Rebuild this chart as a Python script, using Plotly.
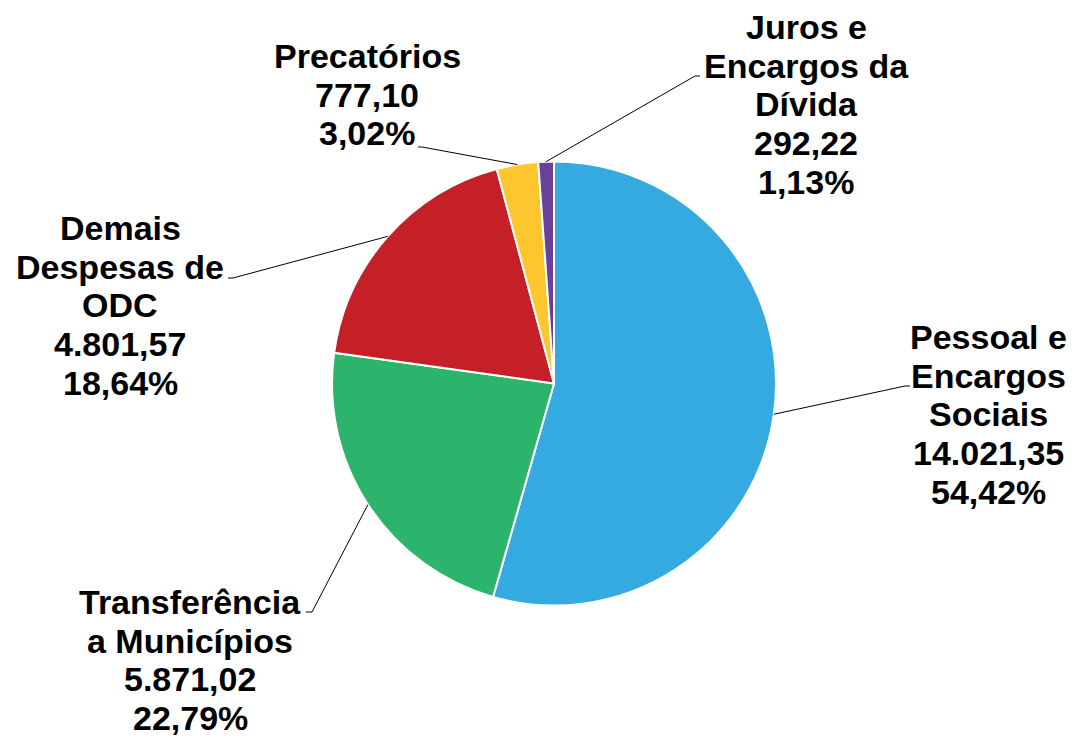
import math
import plotly.graph_objects as go

W, H = 1072, 737

# ---- data ----
categories = ["Pessoal e\nEncargos\nSociais",
              "Transferência\na Municípios",
              "Demais\nDespesas de\nODC",
              "Precatórios",
              "Juros e\nEncargos da\nDívida"]
values = [14021.35, 5871.02, 4801.57, 777.10, 292.22]
colors = ["#35AAE0", "#2DB46C", "#C52027", "#FDC62F", "#6A409B"]

# ---- layout positions (pixels) ----
pie_cx, pie_cy, pie_r = 554, 383.5, 222
label_centers = [(988, 337), (190, 602), (120, 228), (367, 56), (806, 27)]
elbows = [((905, 386), (910, 386)),
          ((312, 612), (306, 612)),
          ((233, 278), (228, 278)),
          ((422, 147), (418, 147)),
          ((695, 76), (700, 76))]
line_gap = 38.7
font_size = 34


def br_num(v):
    s = f"{v:,.2f}"
    return s.replace(",", "X").replace(".", ",").replace("X", ".")


def px(x, y):
    return x / W, 1 - y / H


total = sum(values)

fig = go.Figure(go.Pie(
    labels=[c.replace("\n", " ") for c in categories],
    values=values,
    sort=False,
    direction="clockwise",
    rotation=0,
    marker=dict(colors=colors, line=dict(color="white", width=2)),
    textinfo="none",
    hoverinfo="label+value+percent",
    domain=dict(x=[(pie_cx - pie_r) / W, (pie_cx + pie_r) / W],
                y=[1 - (pie_cy + pie_r) / H, 1 - (pie_cy - pie_r) / H]),
    showlegend=False,
))

annotations = []
shapes = []
cum = 0.0
for i, (cat, v) in enumerate(zip(categories, values)):
    frac = v / total
    mid = (cum + frac / 2) * 2 * math.pi
    cum += frac
    sx = pie_cx + pie_r * math.sin(mid)
    sy = pie_cy - pie_r * math.cos(mid)
    (ex, ey), (fx, fy) = elbows[i]
    p0, p1, p2 = px(sx, sy), px(ex, ey), px(fx, fy)
    shapes.append(dict(type="path", xref="paper", yref="paper",
                       path=f"M {p0[0]},{p0[1]} L {p1[0]},{p1[1]} L {p2[0]},{p2[1]}",
                       line=dict(color="black", width=1)))
    lines = cat.split("\n") + [br_num(v), f"{frac * 100:.2f}".replace(".", ",") + "%"]
    cx, cy = label_centers[i]
    for j, t in enumerate(lines):
        ax, ay = px(cx, cy + j * line_gap)
        annotations.append(dict(x=ax, y=ay, xref="paper", yref="paper",
                                text=t, showarrow=False,
                                xanchor="center", yanchor="middle",
                                font=dict(family="Liberation Sans, Arial, sans-serif",
                                          size=font_size, color="black", weight="bold")))

fig.update_layout(width=W, height=H, margin=dict(l=0, r=0, t=0, b=0),
                  paper_bgcolor="white", plot_bgcolor="white",
                  annotations=annotations, shapes=shapes)

fig.write_html("out.html", config={"displayModeBar": False},
               post_script="document.body.style.margin='0';document.body.style.overflow='hidden';")
